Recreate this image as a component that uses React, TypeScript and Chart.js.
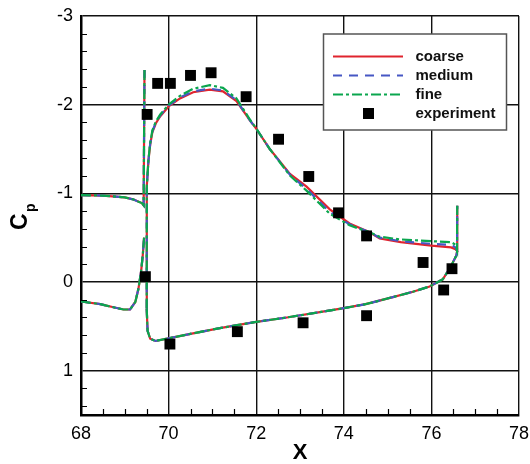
import React, { useEffect, useRef } from "react";
import { Chart, registerables } from "chart.js";

Chart.register(...registerables);

const FONT = '"Liberation Sans", Arial, Helvetica, sans-serif';

// Axis ticks
const xTicks = [68, 70, 72, 74, 76, 78];
const cpTicks = [-3, -2, -1, 0, 1];

// Main element, trailing-edge region (identical for all grids)
const mainUpperX = [68.0, 68.5, 69.0, 69.2, 69.39, 69.43, 69.45];
const mainUpperCp = [-0.98, -0.975, -0.955, -0.93, -0.89, -0.865, -2.39];
const mainLowerX = [68.0, 68.44, 68.74, 68.97, 69.12, 69.24, 69.31, 69.37, 69.41, 69.44];
const mainLowerCp = [0.22, 0.25, 0.285, 0.31, 0.31, 0.225, 0.08, -0.11, -0.3, -0.5];

// Flap suction side
const flapUpperX = [
  69.5, 69.502, 69.54, 69.58, 69.63, 69.71, 69.81, 70.0, 70.26, 70.56, 70.94, 71.24, 71.55, 71.86,
  72.0, 72.31, 72.77, 73.15, 73.68, 74.13, 74.59, 74.82, 75.3, 76.0, 76.45, 76.55, 76.585, 76.59,
];
const coarseUpperCp = [
  0.3, -1.08, -1.37, -1.55, -1.69, -1.79, -1.87, -1.98, -2.07, -2.14, -2.17, -2.15, -2.04, -1.82,
  -1.73, -1.5, -1.22, -1.075, -0.82, -0.66, -0.56, -0.49, -0.45, -0.41, -0.39, -0.37, -0.35, -0.86,
];
const mediumUpperCp = [
  0.3, -1.08, -1.37, -1.56, -1.7, -1.8, -1.88, -1.99, -2.08, -2.15, -2.18, -2.16, -2.05, -1.82,
  -1.73, -1.5, -1.21, -1.05, -0.79, -0.65, -0.56, -0.5, -0.46, -0.43, -0.42, -0.39, -0.355, -0.86,
];
const fineUpperCp = [
  0.3, -1.08, -1.38, -1.57, -1.71, -1.81, -1.89, -2.0, -2.1, -2.18, -2.22, -2.19, -2.07, -1.83,
  -1.73, -1.5, -1.2, -1.03, -0.77, -0.64, -0.56, -0.51, -0.48, -0.46, -0.45, -0.42, -0.36, -0.86,
];

// Flap pressure side
const flapLowerX = [
  69.5, 69.52, 69.58, 69.7, 70.0, 70.5, 71.17, 72.0, 72.7, 73.45, 74.0, 74.5, 75.12, 75.58, 75.96,
  76.26, 76.45, 76.57, 76.59,
];
const flapLowerCp = [
  0.3, 0.55, 0.64, 0.665, 0.635, 0.585, 0.52, 0.45, 0.4, 0.34, 0.295, 0.25, 0.17, 0.11, 0.05, -0.03,
  -0.18, -0.3, -0.35,
];

// Measured pressure taps
const expX = [
  69.51, 69.75, 70.04, 70.5, 70.97, 71.77, 72.51, 73.2, 73.88, 74.52, 75.81, 76.47, 76.28, 74.52,
  73.07, 71.57, 70.03, 69.47,
];
const expCp = [
  -1.89, -2.24, -2.24, -2.33, -2.36, -2.09, -1.61, -1.19, -0.78, -0.52, -0.22, -0.15, 0.09, 0.38,
  0.46, 0.56, 0.7, -0.06,
];

const seriesNames = ["coarse", "medium", "fine", "experiment"];
const COARSE = "#e0242e";
const MEDIUM = "#4657c4";
const FINE = "#0aa64e";
const DASH_MEDIUM = [9, 7];
const DASH_FINE = [10, 3, 3, 3];

const pts = (xs: number[], ys: number[]) => xs.map((x, i) => ({ x, y: ys[i] }));

const lineSet = (data: any[], color: string, dash: number[], order: number) => ({
  data,
  showLine: true,
  borderColor: color,
  backgroundColor: color,
  borderWidth: 2.2,
  borderDash: dash,
  pointRadius: 0,
  pointHoverRadius: 0,
  tension: 0,
  fill: false,
  order,
});

const gridSeries = (upper: number[], color: string, dash: number[], order: number) => [
  lineSet(pts(mainUpperX, mainUpperCp), color, dash, order),
  lineSet(pts(mainLowerX, mainLowerCp), color, dash, order),
  lineSet(pts(flapUpperX, upper), color, dash, order),
  lineSet(pts(flapLowerX, flapLowerCp), color, dash, order),
];

const decorations = {
  id: "decorations",
  afterDraw(chart: any) {
    const { ctx, chartArea } = chart;
    const xs = chart.scales.x;
    const ys = chart.scales.y;
    ctx.save();

    // minor ticks, pointing inward
    ctx.strokeStyle = "#000";
    ctx.lineWidth = 1.2;
    ctx.beginPath();
    for (let v = 68.5; v < 78; v += 0.5) {
      if (Math.abs(v / 2 - Math.round(v / 2)) < 1e-6) continue;
      const px = Math.round(xs.getPixelForValue(v)) + 0.5;
      ctx.moveTo(px, chartArea.bottom);
      ctx.lineTo(px, chartArea.bottom - 6);
    }
    for (let i = -14; i <= 7; i++) {
      if (i % 5 === 0) continue;
      const v = i * 0.2;
      const py = Math.round(ys.getPixelForValue(v)) + 0.5;
      ctx.moveTo(chartArea.left, py);
      ctx.lineTo(chartArea.left + 6, py);
    }
    ctx.stroke();

    // axis titles
    ctx.fillStyle = "#000";
    ctx.font = `bold 22px ${FONT}`;
    ctx.textAlign = "center";
    ctx.textBaseline = "alphabetic";
    ctx.fillText("X", 300, 459);

    ctx.save();
    ctx.translate(27, 230);
    ctx.rotate(-Math.PI / 2);
    ctx.textAlign = "left";
    ctx.font = `bold 23px ${FONT}`;
    ctx.fillText("C", 0, 0);
    ctx.font = `bold 14px ${FONT}`;
    ctx.fillText("p", 18, 8);
    ctx.restore();

    // legend
    const bx = 323.5, by = 34, bw = 183, bh = 96;
    ctx.fillStyle = "#fff";
    ctx.fillRect(bx, by, bw, bh);
    ctx.strokeStyle = "#555";
    ctx.lineWidth = 1.5;
    ctx.strokeRect(bx, by, bw, bh);

    const rows = [56.5, 75.5, 94.5, 113.5];
    const styles = [
      { color: COARSE, dash: [] as number[] },
      { color: MEDIUM, dash: DASH_MEDIUM },
      { color: FINE, dash: DASH_FINE },
    ];
    styles.forEach((s, i) => {
      ctx.strokeStyle = s.color;
      ctx.lineWidth = 2.2;
      ctx.setLineDash(s.dash);
      ctx.beginPath();
      ctx.moveTo(333, rows[i]);
      ctx.lineTo(403, rows[i]);
      ctx.stroke();
    });
    ctx.setLineDash([]);
    ctx.fillStyle = "#000";
    ctx.fillRect(363, rows[3] - 5.5, 11, 11);

    ctx.fillStyle = "#111";
    ctx.font = `bold 15px ${FONT}`;
    ctx.textAlign = "left";
    ctx.textBaseline = "middle";
    seriesNames.forEach((n, i) => ctx.fillText(n, 415.5, rows[i] + 0.5));
    ctx.restore();
  },
};

export default function App() {
  const ref = useRef<HTMLCanvasElement>(null);

  useEffect(() => {
    const canvas = ref.current;
    if (!canvas) return;

    const datasets: any[] = [
      {
        data: pts(expX, expCp),
        showLine: false,
        pointStyle: "rect",
        pointRadius: 7.7,
        pointHoverRadius: 7.7,
        pointBackgroundColor: "#000",
        pointBorderWidth: 0,
        order: 0,
      },
      ...gridSeries(fineUpperCp, FINE, DASH_FINE, 1),
      ...gridSeries(mediumUpperCp, MEDIUM, DASH_MEDIUM, 2),
      ...gridSeries(coarseUpperCp, COARSE, [], 3),
    ];

    const tickFont = { family: FONT, size: 18 };

    const chart = new Chart(canvas, {
      type: "scatter",
      data: { datasets },
      plugins: [decorations],
      options: {
        responsive: false,
        animation: false,
        devicePixelRatio: 1,
        events: [],
        layout: { padding: { top: 16, right: 11, left: 0, bottom: 0 } },
        plugins: { legend: { display: false }, tooltip: { enabled: false } },
        scales: {
          x: {
            type: "linear",
            min: 68,
            max: 78,
            afterBuildTicks: (s: any) => {
              s.ticks = xTicks.map((v) => ({ value: v }));
            },
            afterFit: (s: any) => {
              s.height = 49;
              s.paddingLeft = 0;
              s.paddingRight = 0;
            },
            grid: { color: "#111", lineWidth: 1.4, drawTicks: false },
            border: { display: true, color: "#000", width: 2.5 },
            ticks: { padding: 8, font: tickFont, color: "#000", maxRotation: 0, autoSkip: false },
          },
          y: {
            type: "linear",
            min: -3,
            max: 1.5,
            reverse: true,
            afterBuildTicks: (s: any) => {
              s.ticks = cpTicks.map((v) => ({ value: v }));
            },
            afterFit: (s: any) => {
              s.width = 81;
              s.paddingTop = 0;
              s.paddingBottom = 0;
            },
            grid: { color: "#111", lineWidth: 1.4, drawTicks: false },
            border: { display: true, color: "#000", width: 2.5 },
            ticks: { padding: 8, font: tickFont, color: "#000", autoSkip: false },
          },
        },
      } as any,
    });

    return () => chart.destroy();
  }, []);

  return (
    <div style={{ position: "fixed", left: 0, top: 0, width: 530, height: 464, background: "#fff" }}>
      <canvas ref={ref} width={530} height={464} style={{ display: "block", width: 530, height: 464 }} />
    </div>
  );
}
